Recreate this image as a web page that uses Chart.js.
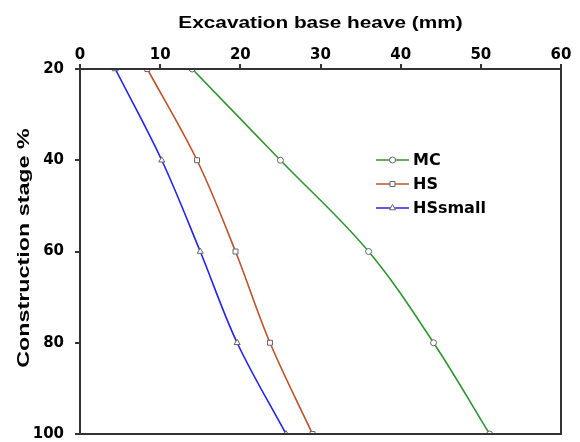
<!DOCTYPE html>
<html>
<head>
    <title>Excavation base heave</title>
    <script src="https://cdn.jsdelivr.net/npm/chart.js"></script>
    <style>
        body {
            margin: 0;
            background-color: #ffffff;
        }
        #wrap {
            width: 580px;
            height: 442px;
        }
    </style>
</head>
<body>

    <div id="wrap">
        <canvas id="heaveChart" width="580" height="442"></canvas>
    </div>

    <script>
        // construction stages (%) and heave (mm) per soil model
        const stages = [20, 40, 60, 80, 100];
        const mcHeave = [14.0, 25.0, 36.0, 44.1, 51.1];
        const hsHeave = [8.4, 14.6, 19.4, 23.7, 29.0];
        const hsSmallHeave = [4.4, 10.2, 15.0, 19.6, 25.7];
        const heaveTicks = [0, 10, 20, 30, 40, 50, 60];
        const stageTicks = [20, 40, 60, 80, 100];

        const xTitle = 'Excavation base heave (mm)';
        const yTitle = 'Construction stage %';

        const axisColor = '#333333';
        const titleFont = '"Liberation Sans", Arial, sans-serif';
        const labelFont = '"DejaVu Sans", Verdana, sans-serif';

        function toPoints(values) {
            return values.map((v, i) => ({ x: v, y: stages[i] }));
        }

        function makeSeries(label, values, color, pointStyle, radius) {
            return {
                label: label,
                data: toPoints(values),
                showLine: true,
                borderColor: color,
                borderWidth: 1.6,
                tension: 0.35,
                pointStyle: pointStyle,
                pointRadius: radius,
                pointBackgroundColor: '#ffffff',
                pointBorderColor: '#666666',
                pointBorderWidth: 1
            };
        }

        // box around the plot area
        const frame = {
            id: 'frame',
            afterDatasetsDraw(chart) {
                const a = chart.chartArea;
                const ctx = chart.ctx;
                ctx.save();
                ctx.strokeStyle = axisColor;
                ctx.lineWidth = 2;
                ctx.strokeRect(a.left, a.top, a.right - a.left, a.bottom - a.top);
                ctx.restore();
            }
        };

        // wide bold axis titles (stretched horizontally)
        const axisTitles = {
            id: 'axisTitles',
            afterDraw(chart) {
                const ctx = chart.ctx;
                const a = chart.chartArea;
                ctx.save();
                ctx.fillStyle = '#000000';
                ctx.textAlign = 'center';
                ctx.textBaseline = 'alphabetic';

                ctx.font = 'bold 16px ' + titleFont;
                ctx.save();
                ctx.translate((a.left + a.right) / 2, 28);
                ctx.scale(1.3, 1);
                ctx.fillText(xTitle, 0, 0);
                ctx.restore();

                ctx.font = 'bold 17px ' + titleFont;
                ctx.save();
                ctx.translate(29, 248);
                ctx.rotate(-Math.PI / 2);
                ctx.scale(1.37, 1);
                ctx.fillText(yTitle, 0, 0);
                ctx.restore();

                ctx.restore();
            }
        };

        // legend drawn inside the plot
        const innerLegend = {
            id: 'innerLegend',
            afterDraw(chart) {
                const ctx = chart.ctx;
                const x0 = 376, lineLen = 33;
                let y = 160;
                ctx.save();
                ctx.font = 'bold 16px ' + labelFont;
                ctx.textBaseline = 'middle';
                chart.data.datasets.forEach(ds => {
                    ctx.strokeStyle = ds.borderColor;
                    ctx.lineWidth = 1.6;
                    ctx.beginPath();
                    ctx.moveTo(x0, y);
                    ctx.lineTo(x0 + lineLen, y);
                    ctx.stroke();
                    ctx.fillStyle = '#ffffff';
                    ctx.strokeStyle = '#666666';
                    ctx.lineWidth = 1;
                    Chart.helpers.drawPoint(ctx, {
                        pointStyle: ds.pointStyle,
                        radius: ds.pointRadius,
                        borderWidth: 1
                    }, x0 + lineLen / 2, y);
                    ctx.fillStyle = '#000000';
                    ctx.fillText(ds.label, x0 + lineLen + 4, y + 1);
                    y += 24;
                });
                ctx.restore();
            }
        };

        const tickFont = { family: labelFont, size: 15, weight: 'bold' };

        const ctx = document.getElementById('heaveChart').getContext('2d');

        new Chart(ctx, {
            type: 'scatter',
            data: {
                datasets: [
                    makeSeries('MC', mcHeave, '#2f962f', 'circle', 3),
                    makeSeries('HS', hsHeave, '#c0512b', 'rect', 3.5),
                    makeSeries('HSsmall', hsSmallHeave, '#2323f5', 'triangle', 3.5)
                ]
            },
            options: {
                responsive: false,
                animation: false,
                layout: {
                    padding: { right: 19, bottom: 8, left: 0, top: 0 }
                },
                plugins: {
                    legend: { display: false },
                    tooltip: { enabled: false }
                },
                scales: {
                    x: {
                        type: 'linear',
                        position: 'top',
                        min: 0,
                        max: 60,
                        afterBuildTicks(scale) {
                            scale.ticks = heaveTicks.map(v => ({ value: v }));
                        },
                        afterFit(scale) {
                            scale.height = 69;
                        },
                        ticks: {
                            color: '#000000',
                            font: tickFont,
                            padding: 0,
                            maxRotation: 0
                        },
                        grid: {
                            drawOnChartArea: false,
                            drawTicks: true,
                            tickLength: 5,
                            color: axisColor,
                            lineWidth: 2
                        },
                        border: { color: axisColor, width: 2 }
                    },
                    y: {
                        type: 'linear',
                        reverse: true,
                        min: 20,
                        max: 100,
                        afterBuildTicks(scale) {
                            scale.ticks = stageTicks.map(v => ({ value: v }));
                        },
                        afterFit(scale) {
                            scale.width = 80;
                            // tick padding should not shrink the plot vertically
                            scale.paddingTop = 0;
                            scale.paddingBottom = 0;
                        },
                        ticks: {
                            color: '#000000',
                            font: tickFont,
                            padding: 11
                        },
                        grid: {
                            drawOnChartArea: false,
                            drawTicks: true,
                            tickLength: 5,
                            color: axisColor,
                            lineWidth: 2
                        },
                        border: { color: axisColor, width: 2 }
                    }
                }
            },
            plugins: [frame, axisTitles, innerLegend]
        });
    </script>
</body>
</html>
